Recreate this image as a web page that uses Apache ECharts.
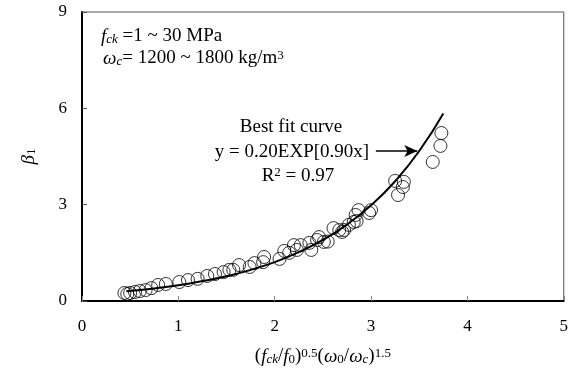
<!DOCTYPE html>
<html><head><meta charset="utf-8">
<script src="https://cdn.jsdelivr.net/npm/echarts@6/dist/echarts.min.js"></script>
<style>html,body{margin:0;padding:0;background:#fff}#c{width:571px;height:380px}</style>
</head><body><div id="c"></div>
<script>
const xTicks = [0,1,2,3,4,5];
const yTicks = [0,3,6,9];
const obsX = [0.44,0.50,0.55,0.60,0.66,0.72,0.79,0.87,1.01,1.10,1.20,1.30,1.38,1.47,1.53,
  1.57,1.63,1.74,1.79,1.89,1.88,2.05,2.10,2.20,2.23,2.27,2.36,2.38,2.44,2.46,2.51,2.61,2.67,2.72,2.77,2.84,2.85,
  2.82,2.87,3.00,2.98,3.25,3.34,3.33,3.28,3.64,3.72,3.73,0.47,2.15,2.55,2.70];
const obsY = [0.25,0.25,0.28,0.31,0.34,0.40,0.50,0.53,0.59,0.65,0.69,0.78,0.84,0.90,0.97,
  0.97,1.12,1.06,1.18,1.37,1.21,1.31,1.56,1.74,1.59,1.74,1.81,1.59,1.90,1.99,1.84,2.27,2.21,2.21,2.37,2.68,2.49,
  2.46,2.83,2.83,2.74,3.74,3.71,3.55,3.30,4.33,4.83,5.23,0.22,1.50,1.85,2.15];
const fitX = [0.46,0.75,1.0,1.25,1.5,1.75,2.0,2.25,2.5,2.75,3.0,3.25,3.5,3.75];
const fitY = [0.30,0.39,0.49,0.62,0.77,0.97,1.21,1.52,1.90,2.38,2.98,3.73,4.67,5.84];
const arrowFrom = [3.05,4.67], arrowTo = [3.48,4.67];

const FF = 'Liberation Serif';
const FS = 19;
const TS = 17;
const mk = (fs, ss) => ({
  i:{fontFamily:FF,fontSize:fs,fontStyle:'italic',color:'#000'},
  n:{fontFamily:FF,fontSize:fs,color:'#000'},
  sub:{fontFamily:FF,fontSize:ss,color:'#000',verticalAlign:'bottom'},
  isub:{fontFamily:FF,fontSize:ss,fontStyle:'italic',color:'#000',verticalAlign:'bottom'},
  sup:{fontFamily:FF,fontSize:ss,color:'#000',verticalAlign:'top'}
});
const rich = mk(FS, 13);
const chart = echarts.init(document.getElementById('c'));
chart.setOption({
  animation:false,
  grid:{left:82,right:5,top:12,bottom:79,show:true,borderColor:'#555',borderWidth:1},
  xAxis:{type:'value',min:xTicks[0],max:xTicks[xTicks.length-1],interval:1,
    axisLine:{show:true,onZero:false,lineStyle:{color:'#000',width:2}},
    axisTick:{show:true,inside:true,length:5,lineStyle:{color:'#888',width:1}},
    splitLine:{show:false},
    axisLabel:{margin:17,fontFamily:FF,fontSize:TS,color:'#000'},
    name:'{n|(}{i|f}{isub|ck}{n|/}{i|f}{sub|0}{n|)}{sup|0.5}{n|(}{i|ω}{sub|0}{n|/}{i|ω}{isub|c}{n|)}{sup|1.5}',
    nameLocation:'middle',nameGap:46,
    nameTextStyle:{fontFamily:FF,fontSize:FS,color:'#000',rich:rich}},
  yAxis:{type:'value',min:yTicks[0],max:yTicks[yTicks.length-1],interval:3,
    axisLine:{show:true,onZero:false,lineStyle:{color:'#000',width:2}},
    axisTick:{show:true,inside:true,length:5,lineStyle:{color:'#555',width:1}},
    splitLine:{show:false},
    axisLabel:{margin:15,fontFamily:FF,fontSize:TS,color:'#000'},
    name:'{i|β}{sub|1}',nameLocation:'middle',nameRotate:90,nameGap:44,
    nameTextStyle:{fontFamily:FF,fontSize:FS,color:'#000',rich:rich}},
  series:[
    {type:'scatter',data:obsX.map((x,k)=>[x,obsY[k]]),symbol:'circle',symbolSize:13,
     itemStyle:{color:'rgba(0,0,0,0)',borderColor:'#000',borderWidth:1},z:3},
    {type:'line',data:fitX.map((x,k)=>[x,fitY[k]]),smooth:true,showSymbol:false,
     lineStyle:{color:'#000',width:2},z:4,
     markLine:{silent:true,symbol:['none','arrow'],symbolSize:[9,13],
       lineStyle:{color:'#000',width:1.5,type:'solid'},label:{show:false},
       data:[[{coord:arrowFrom},{coord:arrowTo}]]}}
  ],
  graphic:[
    {type:'text',left:101,top:27,style:{text:'{i|f}{isub|ck}{n| =1 ~ 30 MPa}',rich:rich,font:FS+'px '+FF}},
    {type:'text',left:103,top:49,style:{text:'{i|ω}{isub|c}{n|= 1200 ~ 1800 kg/m}{sup|3}',rich:rich,font:FS+'px '+FF}},
    {type:'text',x:291,y:127,style:{text:'Best fit curve',font:FS+'px '+FF,fill:'#000',align:'center',verticalAlign:'middle'}},
    {type:'text',x:292,y:152,style:{text:'y = 0.20EXP[0.90x]',font:FS+'px '+FF,fill:'#000',align:'center',verticalAlign:'middle'}},
    {type:'text',x:298,y:176,style:{text:'{n|R}{sup|2}{n| = 0.97}',rich:rich,font:FS+'px '+FF,align:'center',verticalAlign:'middle'}}
  ]
});
</script></body></html>
